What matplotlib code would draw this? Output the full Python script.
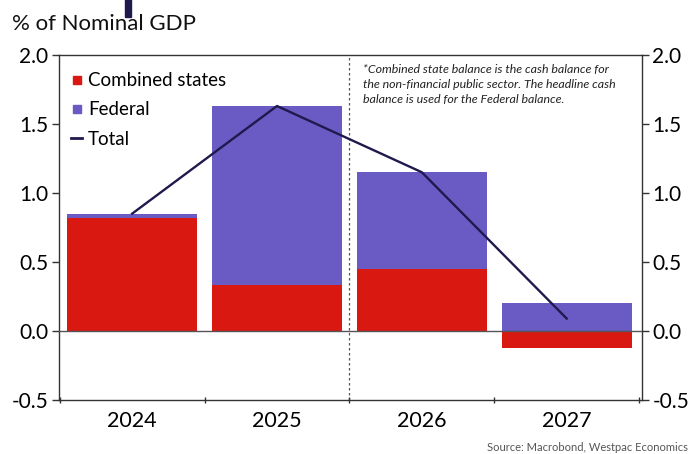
import matplotlib
matplotlib.use("Agg")
import matplotlib.pyplot as plt
from matplotlib.lines import Line2D
from matplotlib.patches import Rectangle

plt.rcParams["font.family"] = ["Lato", "DejaVu Sans"]

years = ["2024", "2025", "2026", "2027"]
states = [0.82, 0.33, 0.45, -0.12]
federal = [0.03, 1.30, 0.70, 0.20]
total = [0.85, 1.63, 1.15, 0.09]
yticks = [-0.5, 0.0, 0.5, 1.0, 1.5, 2.0]

RED = "#d91811"
PURPLE = "#6a5ac4"
NAVY = "#1f1a4d"

fig = plt.figure(figsize=(6.89, 4.54), dpi=100)
ax = fig.add_axes([0.0856, 0.119, 0.8462, 0.760])

x = list(range(len(years)))
# federal sits on top of states when positive; 2027 states negative so federal starts at 0
fed_bottom = [max(s, 0) for s in states]
ax.bar(x, states, width=0.9, color=RED, zorder=2)
ax.bar(x, federal, width=0.9, bottom=fed_bottom, color=PURPLE, zorder=2)
ax.plot(x, total, color=NAVY, linewidth=1.7, zorder=3)

ax.axhline(0, color="#555555", linewidth=1.0, zorder=4)
ax.axvline(1.5, color="#555555", linewidth=0.9, linestyle=(0, (2, 2)), zorder=1)

ax.set_xlim(-0.505, 3.52)
ax.set_ylim(-0.5, 2.0)
ax.set_yticks(yticks)
ax.set_yticklabels([f"{v:.1f}" for v in yticks])
ax.tick_params(axis="y", which="both", labelsize=15, length=5, width=1,
               direction="out", left=True, right=True, labelleft=True, labelright=True,
               color="#333333", pad=2.5)
ax.set_xticks(x)
ax.set_xticklabels(years)
ax.tick_params(axis="x", which="major", length=0, labelsize=15.5, pad=8)
ax.set_xticks([-0.5, 0.5, 1.5, 2.5, 3.5], minor=True)
ax.tick_params(axis="x", which="minor", length=5, width=1, color="#333333", direction="inout")
for sp in ax.spines.values():
    sp.set_color("#333333")
    sp.set_linewidth(1.0)

handles = [
    Line2D([], [], marker="s", color=RED, linestyle="none", markersize=6),
    Line2D([], [], marker="s", color=PURPLE, linestyle="none", markersize=6),
    Line2D([], [], color=NAVY, linewidth=2),
]
ax.legend(handles, ["Combined states", "Federal", "Total"], loc="upper left",
          bbox_to_anchor=(0.0, 0.985), frameon=False, fontsize=13.5,
          handlelength=0.6, handletextpad=0.3, labelspacing=0.65, borderaxespad=0.25)

ax.text(0.521, 0.975,
        "*Combined state balance is the cash balance for\n"
        "the non-financial public sector. The headline cash\n"
        "balance is used for the Federal balance.",
        transform=ax.transAxes, ha="left", va="top", fontsize=8.9,
        style="italic", color="#222222", linespacing=1.45)

fig.text(0.017, 0.925, "% of Nominal GDP", fontsize=16, color="#111111", ha="left", va="bottom")
fig.patches.append(Rectangle((0.181, 0.962), 0.009, 0.04, transform=fig.transFigure,
                             color=NAVY, figure=fig))
fig.text(0.998, 0.003, "Source: Macrobond, Westpac Economics", fontsize=8,
         color="#555555", ha="right", va="bottom")

fig.savefig("out.png", dpi=100)
